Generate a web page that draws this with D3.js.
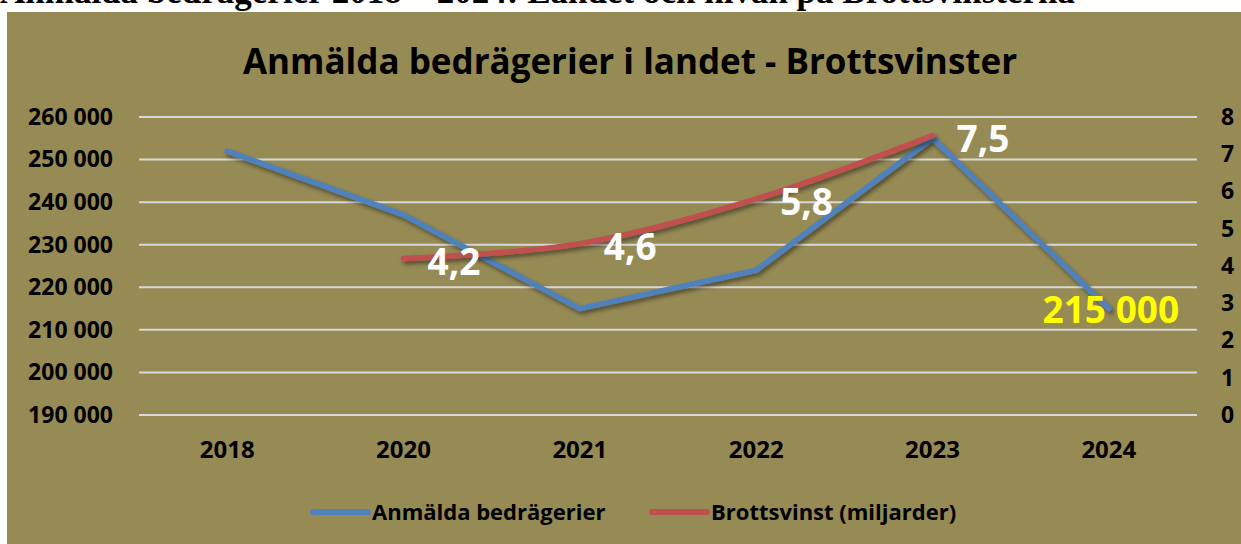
<!DOCTYPE html>
<html>
<head>
<meta charset="utf-8">
<script src="https://cdn.jsdelivr.net/npm/d3@7"></script>
<style>
  body { margin: 0; background: #fff; }
  svg { display: block; }
  text { font-family: "Open Sans", sans-serif; font-weight: bold; }
</style>
</head>
<body>
<svg id="chart" width="1241" height="544"></svg>
<script>
// data
var years = ["2018", "2020", "2021", "2022", "2023", "2024"];
var reported = [252000, 237000, 215000, 224000, 255000, 215000];
var profit = [null, 4.2, 4.6, 5.8, 7.5, null];
var leftTicks = [190000, 200000, 210000, 220000, 230000, 240000, 250000, 260000];
var rightTicks = [0, 1, 2, 3, 4, 5, 6, 7, 8];
var seriesNames = ["Anmälda bedrägerier", "Brottsvinst (miljarder)"];

var BLUE = "#4f81bd", RED = "#c0504d", BG = "#968a55";

var svg = d3.select("#chart");

// heading above the chart, cut at the top edge like in the source
svg.append("text")
    .attr("x", 0).attr("y", 3)
    .style("font-family", "'Liberation Serif', serif")
    .style("font-size", "35px")
    .style("fill", "#000")
    .text("Anmälda bedrägerier 2018 – 2024: Landet och nivån på Brottsvinsterna");

svg.append("rect")
    .attr("x", 7).attr("y", 12)
    .attr("width", 1234).attr("height", 532)
    .style("fill", BG);

var defs = svg.append("defs");
defs.append("filter").attr("id", "shadow")
    .attr("x", "-10%").attr("y", "-10%").attr("width", "120%").attr("height", "130%")
    .append("feDropShadow")
    .attr("dx", 2).attr("dy", 3).attr("stdDeviation", 2)
    .attr("flood-color", "#000").attr("flood-opacity", 0.45);

svg.append("text")
    .attr("x", 630).attr("y", 74)
    .attr("text-anchor", "middle")
    .style("font-size", "35px")
    .style("fill", "#000")
    .text("Anmälda bedrägerier i landet - Brottsvinster");

var x = d3.scaleBand().domain(years).range([139, 1197]);
var yL = d3.scaleLinear().domain([190000, 260000]).range([415, 117]);
var yR = d3.scaleLinear().domain([0, 8]).range([415, 117]);
var fmt = function(d){ return d3.format(",")(d).replace(/,/g, " "); };

// gridlines
svg.append("g").selectAll("line")
    .data(leftTicks)
    .enter()
    .append("line")
    .attr("x1", 139).attr("x2", 1197)
    .attr("y1", function(d){ return yL(d); })
    .attr("y2", function(d){ return yL(d); })
    .style("stroke", "#d9d9d9")
    .style("stroke-width", 2);

var axL = svg.append("g")
    .attr("transform", "translate(113,0)")
    .call(d3.axisLeft(yL).tickValues(leftTicks).tickSize(0).tickPadding(0).tickFormat(fmt));
var axR = svg.append("g")
    .attr("transform", "translate(1221,0)")
    .call(d3.axisRight(yR).tickValues(rightTicks).tickSize(0).tickPadding(0));
var axB = svg.append("g")
    .attr("transform", "translate(0,441)")
    .call(d3.axisBottom(x).tickSize(0).tickPadding(0));

[axL, axR, axB].forEach(function(a){
    a.select(".domain").remove();
    a.selectAll("text").style("fill", "#000").style("font-family", null);
});
axL.selectAll("text").style("font-size", "23px");
axR.selectAll("text").style("font-size", "23px");
axB.selectAll("text").style("font-size", "24px");

var cx = function(d, i){ return x(years[i]) + x.bandwidth() / 2; };

var blueLine = d3.line()
    .x(function(d, i){ return cx(d, i); })
    .y(function(d){ return yL(d); });

var redLine = d3.line()
    .defined(function(d){ return d !== null; })
    .x(function(d, i){ return cx(d, i); })
    .y(function(d){ return yR(d); })
    .curve(d3.curveCatmullRom.alpha(0.5));

svg.append("path")
    .datum(reported)
    .attr("d", blueLine)
    .attr("filter", "url(#shadow)")
    .style("fill", "none").style("stroke", BLUE).style("stroke-width", 5.5)
    .style("stroke-linecap", "round").style("stroke-linejoin", "round");

svg.append("path")
    .datum(profit)
    .attr("d", redLine)
    .attr("filter", "url(#shadow)")
    .style("fill", "none").style("stroke", RED).style("stroke-width", 5.5)
    .style("stroke-linecap", "round").style("stroke-linejoin", "round");

// data labels
svg.append("g").selectAll("text")
    .data(profit)
    .enter()
    .filter(function(d){ return d !== null; })
    .append("text")
    .attr("x", function(d){ return cx(d, profit.indexOf(d)) + 24; })
    .attr("y", function(d){ return yR(d) + 16; })
    .style("font-size", "37px")
    .style("fill", "#fff")
    .text(function(d){ return String(d).replace(".", ","); });

var last = reported.length - 1;
svg.append("text")
    .attr("x", cx(reported[last], last) + 2)
    .attr("y", yL(reported[last]) + 14)
    .attr("text-anchor", "middle")
    .style("font-size", "37px")
    .style("fill", "#ffff00")
    .text(fmt(reported[last]));

// legend
var legend = svg.append("g").selectAll("g")
    .data(seriesNames)
    .enter()
    .append("g")
    .attr("transform", function(d, i){ return "translate(" + [313, 652][i] + ",512)"; });
legend.append("line")
    .attr("x1", 0).attr("x2", 55)
    .style("stroke", function(d, i){ return i === 0 ? BLUE : RED; })
    .style("stroke-width", 6)
    .style("stroke-linecap", "round");
legend.append("text")
    .attr("x", 59).attr("y", 8)
    .style("font-size", "22px")
    .style("fill", "#000")
    .text(function(d){ return d; });
</script>
</body>
</html>
